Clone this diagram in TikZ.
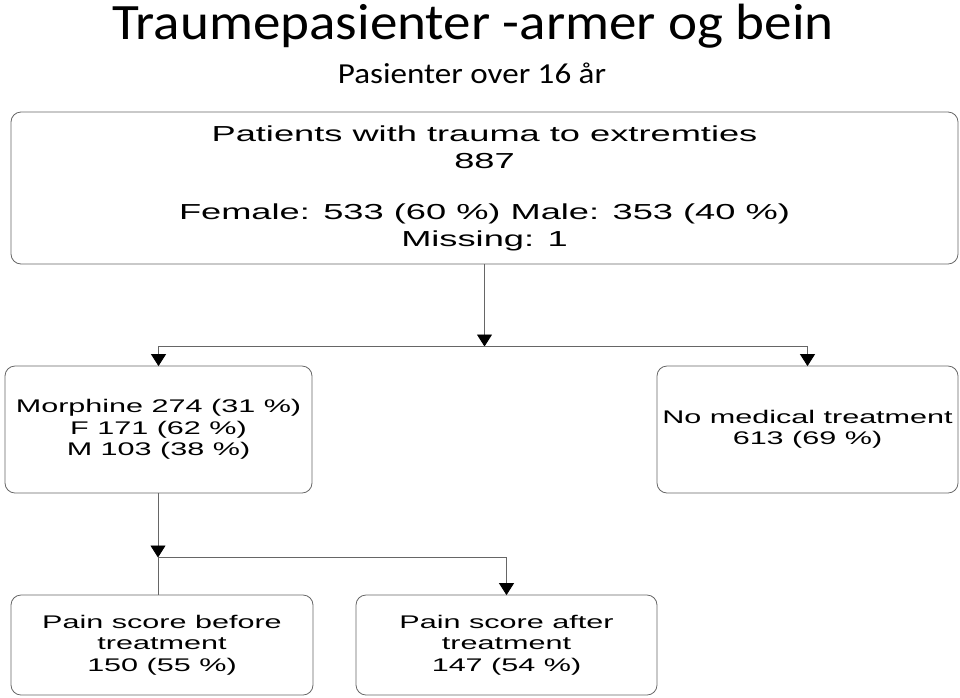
\documentclass[tikz,border=0pt]{standalone}
\usepackage{fontspec}
\setmainfont{Carlito}
\newfontfamily\boxfont[FakeStretch=1.67]{Liberation Sans}
\newfontfamily\titlefont[FakeStretch=1.08]{Carlito}
\newfontfamily\subfont[FakeStretch=1.14]{Carlito}
\usetikzlibrary{arrows.meta}
\begin{document}
\begin{tikzpicture}[x=1pt,y=-1pt,
  box/.style={draw=black!60, line width=0.8pt, rounded corners=10pt, align=center, inner sep=0pt, font=\boxfont\fontsize{18.3}{21.5}\selectfont},
  conn/.style={draw=black!60, line width=0.9pt},
  arr/.style={conn, -{Triangle[width=15pt,length=12pt,color=black,fill=black]}, shorten >=-0.5pt}]
\path[use as bounding box] (0,0) rectangle (960,697);

\node[anchor=base, inner sep=0pt] (title) at (473,39) {\titlefont\fontsize{51}{51}\selectfont Traumepasienter -armer og bein};
\node[anchor=base, inner sep=0pt] (sub) at (472,83) {\subfont\fontsize{29}{29}\selectfont Pasienter over 16 år};

\node[box, minimum width=947pt, minimum height=152pt, font=\boxfont\fontsize{21.7}{27}\selectfont] (top) at (484.5,188)
  {Patients with trauma to extremties\\887\\[24pt]Female: 533 (60 \%) Male: 353 (40 \%)\\Missing: 1};
\node[box, minimum width=307pt, minimum height=127pt] (morph) at (158.5,429.5)
  {Morphine 274 (31 \%)\\F 171 (62 \%)\\M 103 (38 \%)};
\node[box, minimum width=301pt, minimum height=127pt] (nomed) at (807.5,429.5)
  {No medical treatment\\613 (69 \%)};
\node[box, minimum width=302pt, minimum height=100pt] (before) at (162,645)
  {Pain score before\\treatment\\150 (55 \%)};
\node[box, minimum width=301pt, minimum height=100pt] (after) at (506.5,645)
  {Pain score after\\treatment\\147 (54 \%)};

\coordinate (j1) at (484.5,346);
\coordinate (j2) at (158,557);

\draw[arr] (top.south) -- (j1);
\draw[conn] (j1 -| morph.north) -- (j1 -| nomed.north);
\draw[arr] (j1 -| morph.north) -- (morph.north);
\draw[arr] (j1 -| nomed.north) -- (nomed.north);

\draw[arr] (j2 |- morph.south) -- (j2);
\draw[conn] (j2) -- (j2 |- before.north);
\draw[arr] (j2) -| (after.north);
\end{tikzpicture}
\end{document}
